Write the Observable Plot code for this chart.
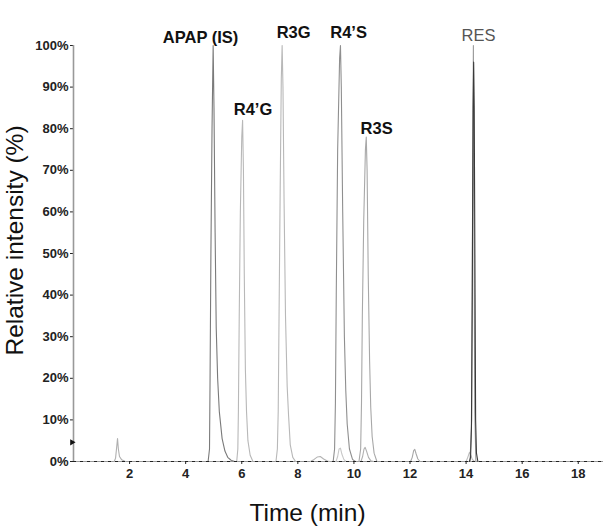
<!DOCTYPE html>
<html><head><meta charset="utf-8">
<script src="https://cdn.jsdelivr.net/npm/d3@7"></script>
<script src="https://cdn.jsdelivr.net/npm/@observablehq/plot@0.6"></script>
<style>body{margin:0;background:#fff}</style>
</head><body><div id="chart"></div>
<script>
// Axis ticks
const xTicks = [2, 4, 6, 8, 10, 12, 14, 16, 18];
const yTicks = [0, 10, 20, 30, 40, 50, 60, 70, 80, 90, 100];

// Peak labels (time in min, level in %)
const peakNames  = ["APAP (IS)", "R4’G", "R3G", "R4’S", "R3S", "RES"];
const labelTime  = [4.53, 6.40, 7.85, 9.81, 10.81, 14.44];
const labelLevel = [100.7, 83.4, 101.7, 101.9, 78.8, 101.0];

// Small marker on the y axis
const markerLevel = 4.6;

// Chromatogram traces: [time (min), relative intensity (%)]
const traceAPAP = [[4.80,0],[4.85,3],[4.87,20],[4.90,50],[4.94,80],[4.98,100],[5.01,85],[5.05,55],[5.09,32],[5.14,20],[5.20,12],[5.30,5.5],[5.40,2.5],[5.50,1],[5.62,0.3],[5.75,0]];
const traceR4G  = [[5.82,0],[5.86,3],[5.88,12],[5.91,35],[5.95,60],[6.00,78],[6.03,82],[6.06,70],[6.09,45],[6.13,22],[6.17,12],[6.22,5],[6.30,1.5],[6.40,0]];
const traceR3G  = [[7.22,0],[7.27,3],[7.30,12],[7.33,35],[7.37,65],[7.41,92],[7.44,100],[7.47,90],[7.51,62],[7.56,35],[7.62,18],[7.67,11],[7.73,4],[7.82,1],[7.92,0]];
const traceR4S  = [[9.26,0],[9.31,3],[9.34,14],[9.37,40],[9.42,75],[9.49,97],[9.52,100],[9.55,90],[9.60,60],[9.66,30],[9.71,17],[9.76,9],[9.84,3],[9.95,0.5],[10.05,0]];
const traceR3S  = [[10.18,0],[10.24,3],[10.27,14],[10.30,35],[10.35,58],[10.41,75],[10.44,78],[10.47,70],[10.51,45],[10.56,24],[10.60,13],[10.65,6],[10.72,2],[10.82,0]];
const traceRESlight = [[14.14,0],[14.20,10],[14.23,60],[14.26,100],[14.28,60],[14.31,12],[14.35,0]];
const traceRESdark  = [[14.12,0],[14.16,1],[14.19,8],[14.22,40],[14.25,85],[14.27,96],[14.29,85],[14.32,40],[14.34,10],[14.37,2],[14.42,0]];
const traceMinor1 = [[1.45,0],[1.50,0.8],[1.54,3.5],[1.57,5.5],[1.60,3],[1.64,1.2],[1.72,0.4],[1.85,0]];
const traceMinor2 = [[8.45,0],[8.58,0.5],[8.70,1.1],[8.80,1.2],[8.92,0.6],[9.05,0.1],[9.15,0]];
const traceMinor3 = [[9.36,0],[9.42,1.2],[9.47,3],[9.52,3.2],[9.57,1.8],[9.64,0.5],[9.72,0]];
const traceMinor4 = [[10.25,0],[10.31,1.2],[10.36,3],[10.40,3.4],[10.45,2.5],[10.52,1],[10.60,0.2],[10.70,0]];
const traceMinor5 = [[12.02,0],[12.08,1],[12.13,2.6],[12.17,2.9],[12.22,1.8],[12.28,0.6],[12.36,0]];
const traceMinor6 = [[14.00,0],[14.06,1],[14.12,2.2],[14.17,1.5],[14.22,0.5],[14.30,0]];

const traces = [
  ["minor1", traceMinor1], ["minor2", traceMinor2], ["minor3", traceMinor3],
  ["minor4", traceMinor4], ["minor5", traceMinor5], ["minor6", traceMinor6],
  ["R4G", traceR4G], ["R3G", traceR3G], ["R3S", traceR3S], ["R4S", traceR4S],
  ["APAP", traceAPAP], ["RESlight", traceRESlight], ["RESdark", traceRESdark]
];
const rows = traces.flatMap(([name, pts]) => pts.map(([t, v]) => ({t, v, trace: name})));

const traceColors = {
  minor1: "#b0b0b0", minor2: "#b4b4b4", minor3: "#c8c8c8", minor4: "#b0b0b0",
  minor5: "#a8a8a8", minor6: "#bcbcbc", R4G: "#b8b8b8", R3G: "#b8b8b8",
  R3S: "#a8a8a8", R4S: "#8f8f8f", APAP: "#7a7a7a", RESlight: "#9a9a9a", RESdark: "#3a3a3a"
};

const font = "'Liberation Sans', Arial, Helvetica, sans-serif";
const idx = d3.range(peakNames.length);

const chart = Plot.plot({
  width: 608,
  height: 532,
  marginLeft: 73,
  marginRight: 5,
  marginTop: 45,
  marginBottom: 71,
  style: {fontFamily: font, background: "#fff"},
  x: {domain: [0, 18.9]},
  y: {domain: [0, 100]},
  color: {domain: traces.map(d => d[0]), range: traces.map(d => traceColors[d[0]])},
  marks: [
    Plot.axisY(yTicks, {tickFormat: d => d + "%", tickSize: 3, tickPadding: 2, fontSize: 13, fontWeight: "bold", color: "#222", label: null}),
    Plot.axisX(xTicks, {tickSize: 3, tickPadding: 4, fontSize: 13, fontWeight: "bold", color: "#222", label: null}),
    Plot.ruleX([0], {stroke: "#999", strokeWidth: 1.6}),
    Plot.ruleY([0], {stroke: "#999", strokeWidth: 1.2}),
    Plot.line(rows, {x: "t", y: "v", z: "trace", stroke: "trace", strokeWidth: 1.1}),
    Plot.ruleY([0], {stroke: "#222", strokeWidth: 1, strokeDasharray: "3,4"}),
    Plot.dot([markerLevel], {x: () => 0, y: d => d, symbol: "triangle", r: 2.3, fill: "#111", stroke: null, rotate: 90, dx: -1.5}),
    Plot.text(idx, {filter: i => peakNames[i] !== "RES", x: i => labelTime[i], y: i => labelLevel[i], text: i => peakNames[i], lineAnchor: "bottom", fontSize: 16.5, fontWeight: "bold", fill: "#111"}),
    Plot.text(idx, {filter: i => peakNames[i] === "RES", x: i => labelTime[i], y: i => labelLevel[i], text: i => peakNames[i], lineAnchor: "bottom", fontSize: 16.5, fill: "#555"}),
    Plot.text(["Relative intensity (%)"], {frameAnchor: "left", textAnchor: "middle", lineAnchor: "middle", rotate: -90, dx: -58, dy: -13, fontSize: 24.5, fill: "#111"}),
    Plot.text(["Time (min)"], {frameAnchor: "bottom", textAnchor: "middle", lineAnchor: "middle", dx: -31, dy: 52, fontSize: 24.5, fill: "#111"})
  ]
});
document.getElementById("chart").appendChild(chart);
</script>
</body></html>
